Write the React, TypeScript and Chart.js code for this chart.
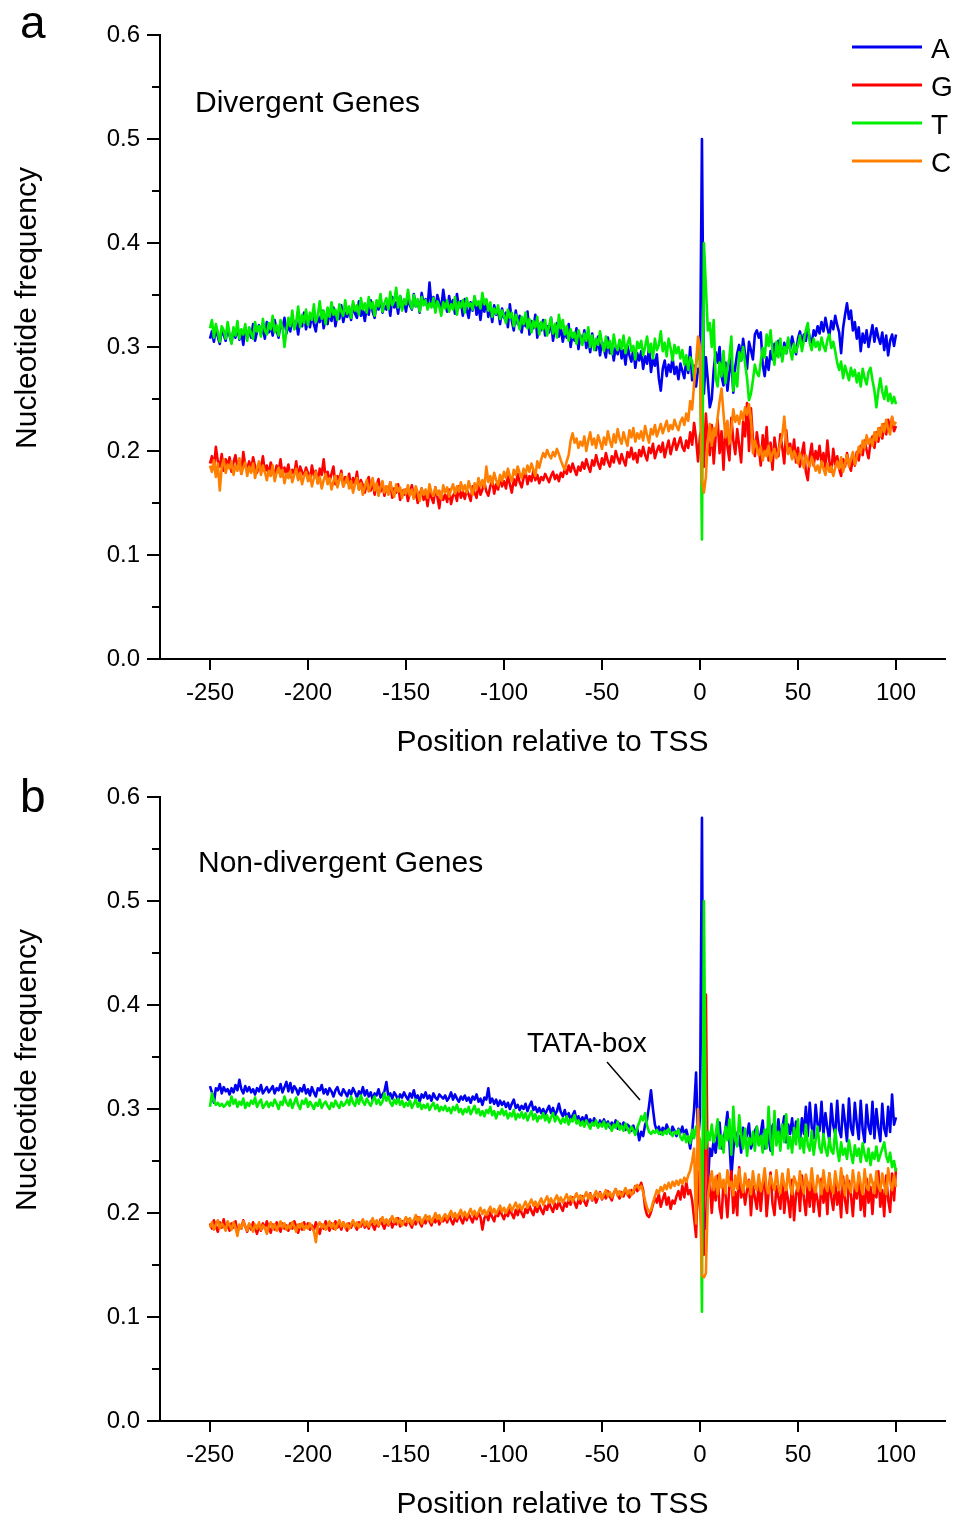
import React, { useEffect, useRef } from 'react';
import { Chart, registerables } from 'chart.js';

Chart.register(...registerables);

const FONT = '"Liberation Sans", Arial, Helvetica, sans-serif';

// Positions relative to TSS (-250 .. 100)
const positions: number[] = Array.from({ length: 351 }, (_, i) => i - 250);

const xTickValues = [-250, -200, -150, -100, -50, 0, 50, 100];
const yTickValues = [0, 0.1, 0.2, 0.3, 0.4, 0.5, 0.6];
const yMinorTickValues = [0.05, 0.15, 0.25, 0.35, 0.45, 0.55];

const seriesNames = ['A', 'G', 'T', 'C'];
const seriesColors = ['#0000f0', '#ff0000', '#00ee00', '#ff8000'];

// ---------- Panel a : Divergent genes ----------
const divA = [
  0.308, 0.315, 0.305, 0.318, 0.310, 0.303, 0.316, 0.312, 0.306, 0.319, // -250
  0.311, 0.304, 0.317, 0.309, 0.320, 0.307, 0.314, 0.302, 0.318, 0.311, // -240
  0.316, 0.309, 0.322, 0.306, 0.315, 0.321, 0.312, 0.318, 0.308, 0.324, // -230
  0.314, 0.320, 0.311, 0.326, 0.316, 0.309, 0.323, 0.318, 0.328, 0.313, // -220
  0.321, 0.315, 0.330, 0.318, 0.325, 0.312, 0.327, 0.320, 0.333, 0.317, // -210
  0.326, 0.319, 0.331, 0.322, 0.315, 0.329, 0.324, 0.335, 0.318, 0.328, // -200
  0.322, 0.334, 0.325, 0.338, 0.320, 0.331, 0.327, 0.340, 0.324, 0.333, // -190
  0.329, 0.337, 0.326, 0.341, 0.332, 0.328, 0.344, 0.330, 0.336, 0.325, // -180
  0.339, 0.331, 0.345, 0.334, 0.328, 0.342, 0.336, 0.347, 0.333, 0.340, // -170
  0.336, 0.344, 0.330, 0.348, 0.338, 0.343, 0.332, 0.349, 0.337, 0.345, // -160
  0.334, 0.347, 0.340, 0.336, 0.351, 0.339, 0.345, 0.333, 0.352, 0.341, // -150
  0.346, 0.338, 0.362, 0.340, 0.348, 0.335, 0.350, 0.343, 0.337, 0.355, // -140
  0.342, 0.334, 0.349, 0.339, 0.345, 0.332, 0.351, 0.338, 0.344, 0.330, // -130
  0.346, 0.336, 0.328, 0.343, 0.335, 0.348, 0.331, 0.340, 0.326, 0.342, // -120
  0.334, 0.345, 0.329, 0.338, 0.324, 0.340, 0.331, 0.336, 0.322, 0.337, // -110
  0.328, 0.333, 0.319, 0.341, 0.325, 0.316, 0.335, 0.322, 0.330, 0.314, // -100
  0.327, 0.320, 0.334, 0.312, 0.325, 0.318, 0.331, 0.309, 0.322, 0.316, // -90
  0.326, 0.311, 0.320, 0.314, 0.328, 0.306, 0.318, 0.323, 0.310, 0.319, // -80
  0.305, 0.316, 0.309, 0.322, 0.300, 0.313, 0.306, 0.318, 0.298, 0.311, // -70
  0.304, 0.316, 0.299, 0.308, 0.295, 0.313, 0.301, 0.297, 0.310, 0.292, // -60
  0.305, 0.298, 0.290, 0.309, 0.294, 0.302, 0.287, 0.300, 0.293, 0.306, // -50
  0.289, 0.297, 0.283, 0.301, 0.292, 0.286, 0.298, 0.280, 0.294, 0.287, // -40
  0.296, 0.279, 0.291, 0.284, 0.299, 0.276, 0.289, 0.282, 0.293, 0.270, // -30
  0.258, 0.279, 0.287, 0.272, 0.283, 0.276, 0.290, 0.274, 0.281, 0.269, // -20
  0.284, 0.277, 0.270, 0.288, 0.275, 0.300, 0.268, 0.282, 0.262, 0.279, // -10
  0.276, 0.500, 0.255, 0.290, 0.268, 0.242, 0.250, 0.278, 0.295, 0.285, // 0
  0.300, 0.272, 0.263, 0.285, 0.258, 0.276, 0.290, 0.256, 0.281, 0.294, // 10
  0.302, 0.287, 0.308, 0.293, 0.279, 0.305, 0.297, 0.288, 0.312, 0.316, // 20
  0.309, 0.314, 0.283, 0.272, 0.290, 0.278, 0.296, 0.288, 0.303, 0.292, // 30
  0.306, 0.297, 0.289, 0.304, 0.294, 0.307, 0.298, 0.310, 0.301, 0.293, // 40
  0.308, 0.315, 0.304, 0.312, 0.306, 0.318, 0.309, 0.303, 0.316, 0.311, // 50
  0.320, 0.313, 0.324, 0.315, 0.328, 0.318, 0.311, 0.325, 0.317, 0.330, // 60
  0.321, 0.314, 0.294, 0.318, 0.331, 0.342, 0.327, 0.335, 0.316, 0.324, // 70
  0.308, 0.319, 0.296, 0.313, 0.304, 0.316, 0.300, 0.311, 0.321, 0.305, // 80
  0.318, 0.309, 0.303, 0.314, 0.297, 0.311, 0.292, 0.306, 0.312, 0.301, // 90
  0.312, // 100
];

const divT = [
  0.318, 0.326, 0.309, 0.322, 0.314, 0.305, 0.320, 0.316, 0.308, 0.324, // -250
  0.313, 0.303, 0.319, 0.311, 0.325, 0.308, 0.317, 0.312, 0.322, 0.306, // -240
  0.319, 0.313, 0.308, 0.324, 0.315, 0.320, 0.310, 0.327, 0.316, 0.312, // -230
  0.323, 0.317, 0.330, 0.314, 0.321, 0.311, 0.326, 0.318, 0.300, 0.316, // -220
  0.328, 0.320, 0.335, 0.317, 0.324, 0.339, 0.319, 0.331, 0.323, 0.336, // -210
  0.321, 0.333, 0.326, 0.341, 0.324, 0.330, 0.344, 0.327, 0.335, 0.322, // -200
  0.338, 0.329, 0.343, 0.331, 0.336, 0.326, 0.341, 0.334, 0.330, 0.345, // -190
  0.332, 0.339, 0.328, 0.344, 0.335, 0.340, 0.331, 0.347, 0.336, 0.342, // -180
  0.333, 0.348, 0.337, 0.343, 0.330, 0.345, 0.339, 0.351, 0.334, 0.342, // -170
  0.347, 0.336, 0.353, 0.340, 0.344, 0.357, 0.338, 0.349, 0.335, 0.346, // -160
  0.341, 0.355, 0.343, 0.337, 0.350, 0.339, 0.346, 0.334, 0.348, 0.340, // -150
  0.345, 0.336, 0.342, 0.338, 0.347, 0.333, 0.344, 0.339, 0.330, 0.343, // -140
  0.337, 0.345, 0.334, 0.341, 0.336, 0.348, 0.331, 0.343, 0.338, 0.345, // -130
  0.333, 0.347, 0.339, 0.342, 0.336, 0.349, 0.340, 0.344, 0.337, 0.352, // -120
  0.341, 0.346, 0.335, 0.343, 0.329, 0.337, 0.332, 0.340, 0.327, 0.335, // -110
  0.330, 0.323, 0.336, 0.328, 0.333, 0.320, 0.331, 0.325, 0.317, 0.329, // -100
  0.322, 0.333, 0.318, 0.327, 0.314, 0.325, 0.319, 0.329, 0.312, 0.324, // -90
  0.317, 0.326, 0.311, 0.320, 0.328, 0.313, 0.322, 0.309, 0.331, 0.318, // -80
  0.326, 0.312, 0.320, 0.306, 0.317, 0.309, 0.314, 0.303, 0.316, 0.310, // -70
  0.302, 0.313, 0.306, 0.319, 0.300, 0.311, 0.297, 0.308, 0.302, 0.315, // -60
  0.304, 0.296, 0.310, 0.299, 0.306, 0.293, 0.312, 0.301, 0.297, 0.307, // -50
  0.298, 0.311, 0.294, 0.303, 0.309, 0.296, 0.301, 0.288, 0.305, 0.299, // -40
  0.306, 0.292, 0.300, 0.310, 0.295, 0.303, 0.289, 0.308, 0.297, 0.302, // -30
  0.315, 0.296, 0.304, 0.291, 0.308, 0.299, 0.287, 0.302, 0.294, 0.300, // -20
  0.289, 0.297, 0.283, 0.292, 0.278, 0.290, 0.286, 0.270, 0.281, 0.300, // -10
  0.285, 0.115, 0.400, 0.358, 0.316, 0.323, 0.300, 0.326, 0.270, 0.262, // 0
  0.285, 0.272, 0.296, 0.265, 0.280, 0.290, 0.310, 0.258, 0.275, 0.262, // 10
  0.295, 0.287, 0.300, 0.284, 0.270, 0.249, 0.255, 0.268, 0.283, 0.275, // 20
  0.272, 0.286, 0.299, 0.290, 0.312, 0.301, 0.316, 0.295, 0.283, 0.305, // 30
  0.290, 0.308, 0.286, 0.300, 0.294, 0.309, 0.297, 0.288, 0.303, 0.295, // 40
  0.302, 0.311, 0.296, 0.306, 0.316, 0.323, 0.304, 0.297, 0.308, 0.300, // 50
  0.305, 0.297, 0.309, 0.301, 0.296, 0.307, 0.312, 0.299, 0.305, 0.296, // 60
  0.285, 0.278, 0.286, 0.270, 0.282, 0.275, 0.268, 0.280, 0.272, 0.278, // 70
  0.266, 0.275, 0.262, 0.279, 0.270, 0.264, 0.276, 0.280, 0.268, 0.258, // 80
  0.242, 0.258, 0.270, 0.257, 0.250, 0.262, 0.248, 0.255, 0.246, 0.252, // 90
  0.245, // 100
];

const divG = [
  0.188, 0.195, 0.183, 0.204, 0.190, 0.185, 0.197, 0.181, 0.192, 0.186, // -250
  0.194, 0.180, 0.189, 0.196, 0.184, 0.191, 0.178, 0.199, 0.186, 0.182, // -240
  0.190, 0.181, 0.194, 0.185, 0.179, 0.188, 0.183, 0.195, 0.180, 0.186, // -230
  0.177, 0.189, 0.183, 0.174, 0.186, 0.180, 0.192, 0.176, 0.184, 0.179, // -220
  0.187, 0.175, 0.182, 0.178, 0.190, 0.173, 0.185, 0.180, 0.176, 0.184, // -210
  0.179, 0.172, 0.186, 0.176, 0.181, 0.169, 0.183, 0.177, 0.192, 0.174, // -200
  0.180, 0.171, 0.178, 0.185, 0.168, 0.176, 0.172, 0.181, 0.166, 0.175, // -190
  0.170, 0.178, 0.165, 0.174, 0.168, 0.180, 0.163, 0.172, 0.167, 0.160, // -180
  0.169, 0.175, 0.162, 0.171, 0.158, 0.167, 0.173, 0.161, 0.168, 0.157, // -170
  0.166, 0.159, 0.170, 0.155, 0.164, 0.160, 0.168, 0.153, 0.162, 0.158, // -160
  0.163, 0.152, 0.160, 0.167, 0.155, 0.161, 0.150, 0.158, 0.164, 0.153, // -150
  0.159, 0.147, 0.162, 0.155, 0.150, 0.165, 0.156, 0.145, 0.160, 0.153, // -140
  0.158, 0.151, 0.163, 0.149, 0.157, 0.160, 0.152, 0.166, 0.155, 0.161, // -130
  0.154, 0.163, 0.158, 0.152, 0.166, 0.160, 0.155, 0.168, 0.158, 0.163, // -120
  0.170, 0.161, 0.157, 0.166, 0.172, 0.159, 0.168, 0.163, 0.175, 0.166, // -110
  0.171, 0.164, 0.176, 0.168, 0.160, 0.173, 0.167, 0.178, 0.170, 0.165, // -100
  0.174, 0.180, 0.168, 0.176, 0.171, 0.181, 0.172, 0.177, 0.169, 0.175, // -90
  0.172, 0.178, 0.174, 0.170, 0.176, 0.180, 0.173, 0.177, 0.171, 0.179, // -80
  0.175, 0.183, 0.178, 0.186, 0.180, 0.188, 0.182, 0.177, 0.185, 0.181, // -70
  0.189, 0.183, 0.192, 0.185, 0.180, 0.191, 0.186, 0.196, 0.188, 0.183, // -60
  0.193, 0.187, 0.198, 0.190, 0.185, 0.195, 0.189, 0.200, 0.193, 0.188, // -50
  0.197, 0.191, 0.186, 0.199, 0.194, 0.203, 0.192, 0.198, 0.189, 0.201, // -40
  0.195, 0.204, 0.196, 0.191, 0.203, 0.198, 0.207, 0.193, 0.200, 0.205, // -30
  0.199, 0.208, 0.194, 0.203, 0.210, 0.197, 0.205, 0.212, 0.201, 0.207, // -20
  0.213, 0.204, 0.200, 0.210, 0.203, 0.218, 0.206, 0.227, 0.212, 0.190, // -10
  0.215, 0.222, 0.185, 0.236, 0.208, 0.196, 0.225, 0.188, 0.214, 0.230, // 0
  0.198, 0.219, 0.182, 0.226, 0.204, 0.191, 0.232, 0.210, 0.197, 0.221, // 10
  0.205, 0.189, 0.228, 0.214, 0.246, 0.200, 0.241, 0.212, 0.195, 0.218, // 20
  0.204, 0.186, 0.215, 0.197, 0.223, 0.191, 0.208, 0.182, 0.213, 0.200, // 30
  0.195, 0.216, 0.203, 0.188, 0.220, 0.198, 0.207, 0.193, 0.211, 0.189, // 40
  0.203, 0.185, 0.198, 0.208, 0.180, 0.172, 0.195, 0.207, 0.186, 0.200, // 50
  0.192, 0.205, 0.188, 0.198, 0.184, 0.210, 0.190, 0.180, 0.202, 0.187, // 60
  0.195, 0.183, 0.176, 0.192, 0.185, 0.198, 0.188, 0.181, 0.194, 0.186, // 70
  0.199, 0.191, 0.205, 0.196, 0.210, 0.201, 0.193, 0.208, 0.214, 0.203, // 80
  0.218, 0.209, 0.222, 0.212, 0.226, 0.216, 0.230, 0.221, 0.232, 0.219, // 90
  0.224, // 100
];

const divC = [
  0.186, 0.180, 0.191, 0.175, 0.188, 0.162, 0.185, 0.192, 0.179, 0.187, // -250
  0.183, 0.190, 0.177, 0.186, 0.181, 0.193, 0.178, 0.184, 0.189, 0.176, // -240
  0.185, 0.179, 0.188, 0.174, 0.183, 0.190, 0.177, 0.186, 0.180, 0.172, // -230
  0.181, 0.176, 0.186, 0.171, 0.179, 0.184, 0.175, 0.182, 0.169, 0.178, // -220
  0.174, 0.181, 0.170, 0.177, 0.183, 0.172, 0.179, 0.168, 0.176, 0.180, // -210
  0.171, 0.177, 0.166, 0.174, 0.180, 0.169, 0.175, 0.164, 0.172, 0.178, // -200
  0.168, 0.174, 0.163, 0.171, 0.176, 0.165, 0.172, 0.178, 0.166, 0.170, // -190
  0.175, 0.164, 0.171, 0.160, 0.168, 0.174, 0.163, 0.169, 0.158, 0.166, // -180
  0.172, 0.161, 0.167, 0.174, 0.162, 0.169, 0.157, 0.165, 0.171, 0.160, // -170
  0.166, 0.158, 0.170, 0.162, 0.156, 0.168, 0.161, 0.165, 0.155, 0.163, // -160
  0.159, 0.167, 0.157, 0.163, 0.154, 0.166, 0.160, 0.152, 0.164, 0.158, // -150
  0.163, 0.155, 0.168, 0.160, 0.157, 0.165, 0.158, 0.162, 0.154, 0.167, // -140
  0.160, 0.165, 0.156, 0.163, 0.168, 0.159, 0.166, 0.161, 0.170, 0.162, // -130
  0.167, 0.160, 0.171, 0.164, 0.158, 0.169, 0.163, 0.174, 0.166, 0.172, // -120
  0.165, 0.185, 0.170, 0.176, 0.168, 0.179, 0.172, 0.167, 0.177, 0.171, // -110
  0.180, 0.174, 0.183, 0.176, 0.171, 0.182, 0.177, 0.185, 0.179, 0.174, // -100
  0.183, 0.178, 0.186, 0.180, 0.188, 0.182, 0.176, 0.190, 0.184, 0.192, // -90
  0.198, 0.194, 0.201, 0.196, 0.193, 0.199, 0.195, 0.202, 0.197, 0.191, // -80
  0.186, 0.182, 0.190, 0.196, 0.210, 0.217, 0.208, 0.212, 0.203, 0.209, // -70
  0.205, 0.214, 0.200, 0.210, 0.218, 0.206, 0.212, 0.203, 0.215, 0.209, // -60
  0.202, 0.213, 0.206, 0.219, 0.210, 0.204, 0.216, 0.208, 0.221, 0.212, // -50
  0.207, 0.218, 0.211, 0.205, 0.220, 0.213, 0.222, 0.209, 0.217, 0.212, // -40
  0.219, 0.210, 0.224, 0.215, 0.208, 0.221, 0.216, 0.225, 0.214, 0.220, // -30
  0.226, 0.217, 0.223, 0.229, 0.219, 0.225, 0.221, 0.230, 0.224, 0.220, // -20
  0.228, 0.232, 0.225, 0.236, 0.229, 0.248, 0.240, 0.265, 0.285, 0.310, // -10
  0.300, 0.172, 0.160, 0.175, 0.210, 0.226, 0.205, 0.222, 0.215, 0.232, // 0
  0.248, 0.260, 0.236, 0.213, 0.229, 0.207, 0.221, 0.240, 0.228, 0.234, // 10
  0.226, 0.238, 0.230, 0.242, 0.235, 0.245, 0.231, 0.198, 0.210, 0.203, // 20
  0.196, 0.204, 0.191, 0.200, 0.195, 0.205, 0.190, 0.198, 0.202, 0.193, // 30
  0.199, 0.207, 0.215, 0.233, 0.210, 0.197, 0.203, 0.192, 0.200, 0.195, // 40
  0.188, 0.198, 0.192, 0.184, 0.196, 0.190, 0.185, 0.194, 0.188, 0.181, // 50
  0.186, 0.179, 0.190, 0.183, 0.177, 0.188, 0.180, 0.185, 0.176, 0.184, // 60
  0.190, 0.183, 0.194, 0.180, 0.188, 0.196, 0.185, 0.192, 0.199, 0.187, // 70
  0.195, 0.204, 0.198, 0.210, 0.203, 0.215, 0.207, 0.212, 0.205, 0.218, // 80
  0.210, 0.222, 0.214, 0.226, 0.218, 0.230, 0.221, 0.216, 0.233, 0.225, // 90
  0.228, // 100
];

// ---------- Panel b : Non-divergent genes ----------
const ndA = [
  0.322, 0.316, 0.306, 0.320, 0.318, 0.324, 0.315, 0.321, 0.317, 0.319, // -250
  0.314, 0.320, 0.316, 0.323, 0.318, 0.328, 0.319, 0.315, 0.322, 0.317, // -240
  0.321, 0.316, 0.319, 0.314, 0.320, 0.317, 0.323, 0.315, 0.318, 0.321, // -230
  0.316, 0.319, 0.322, 0.315, 0.320, 0.318, 0.324, 0.316, 0.321, 0.326, // -220
  0.317, 0.325, 0.316, 0.322, 0.319, 0.314, 0.320, 0.317, 0.323, 0.315, // -210
  0.319, 0.313, 0.321, 0.316, 0.312, 0.320, 0.318, 0.323, 0.315, 0.319, // -200
  0.314, 0.320, 0.317, 0.312, 0.318, 0.321, 0.315, 0.313, 0.319, 0.316, // -190
  0.312, 0.318, 0.314, 0.320, 0.316, 0.311, 0.317, 0.314, 0.321, 0.313, // -180
  0.318, 0.312, 0.316, 0.309, 0.315, 0.313, 0.319, 0.311, 0.314, 0.317, // -170
  0.326, 0.312, 0.315, 0.310, 0.316, 0.313, 0.308, 0.314, 0.311, 0.316, // -160
  0.312, 0.309, 0.315, 0.311, 0.318, 0.310, 0.313, 0.307, 0.314, 0.311, // -150
  0.316, 0.310, 0.313, 0.308, 0.315, 0.311, 0.309, 0.314, 0.312, 0.310, // -140
  0.313, 0.308, 0.311, 0.316, 0.309, 0.314, 0.310, 0.307, 0.312, 0.309, // -130
  0.313, 0.308, 0.311, 0.306, 0.312, 0.309, 0.314, 0.307, 0.310, 0.304, // -120
  0.311, 0.309, 0.320, 0.306, 0.310, 0.305, 0.309, 0.303, 0.308, 0.304, // -110
  0.307, 0.302, 0.306, 0.300, 0.305, 0.309, 0.301, 0.304, 0.299, 0.303, // -100
  0.300, 0.305, 0.298, 0.303, 0.307, 0.299, 0.302, 0.297, 0.301, 0.296, // -90
  0.300, 0.295, 0.299, 0.303, 0.296, 0.301, 0.294, 0.298, 0.305, 0.297, // -80
  0.293, 0.299, 0.291, 0.296, 0.290, 0.294, 0.298, 0.289, 0.293, 0.287, // -70
  0.292, 0.288, 0.294, 0.286, 0.290, 0.285, 0.291, 0.287, 0.283, 0.289, // -60
  0.285, 0.290, 0.284, 0.288, 0.282, 0.287, 0.283, 0.289, 0.281, 0.286, // -50
  0.282, 0.287, 0.280, 0.285, 0.283, 0.279, 0.284, 0.276, 0.281, 0.270, // -40
  0.278, 0.274, 0.285, 0.290, 0.303, 0.318, 0.300, 0.285, 0.279, 0.283, // -30
  0.276, 0.282, 0.278, 0.285, 0.280, 0.276, 0.283, 0.279, 0.274, 0.281, // -20
  0.277, 0.283, 0.275, 0.280, 0.273, 0.262, 0.278, 0.300, 0.335, 0.270, // -10
  0.292, 0.580, 0.200, 0.185, 0.225, 0.262, 0.255, 0.270, 0.258, 0.275, // 0
  0.287, 0.262, 0.270, 0.281, 0.297, 0.268, 0.235, 0.260, 0.278, 0.265, // 10
  0.274, 0.258, 0.282, 0.268, 0.276, 0.286, 0.262, 0.270, 0.279, 0.283, // 20
  0.266, 0.277, 0.289, 0.262, 0.280, 0.272, 0.260, 0.284, 0.287, 0.268, // 30
  0.290, 0.274, 0.282, 0.293, 0.268, 0.285, 0.276, 0.291, 0.270, 0.288, // 40
  0.279, 0.268, 0.291, 0.276, 0.302, 0.274, 0.306, 0.283, 0.272, 0.304, // 50
  0.285, 0.279, 0.307, 0.276, 0.296, 0.281, 0.270, 0.305, 0.284, 0.276, // 60
  0.308, 0.280, 0.273, 0.304, 0.287, 0.269, 0.310, 0.282, 0.275, 0.306, // 70
  0.286, 0.271, 0.308, 0.280, 0.268, 0.304, 0.283, 0.276, 0.307, 0.272, // 80
  0.300, 0.282, 0.269, 0.305, 0.281, 0.274, 0.302, 0.278, 0.314, 0.285, // 90
  0.292, // 100
];

const ndT = [
  0.302, 0.315, 0.308, 0.304, 0.306, 0.303, 0.305, 0.302, 0.304, 0.307, // -250
  0.303, 0.312, 0.305, 0.309, 0.302, 0.307, 0.304, 0.310, 0.301, 0.306, // -240
  0.303, 0.308, 0.305, 0.311, 0.302, 0.306, 0.309, 0.301, 0.304, 0.307, // -230
  0.302, 0.306, 0.303, 0.309, 0.305, 0.300, 0.307, 0.304, 0.312, 0.306, // -220
  0.303, 0.309, 0.301, 0.306, 0.311, 0.304, 0.300, 0.308, 0.305, 0.310, // -210
  0.302, 0.307, 0.304, 0.300, 0.306, 0.303, 0.309, 0.301, 0.305, 0.307, // -200
  0.303, 0.300, 0.306, 0.302, 0.308, 0.304, 0.301, 0.307, 0.303, 0.305, // -190
  0.309, 0.304, 0.312, 0.306, 0.303, 0.310, 0.305, 0.313, 0.307, 0.304, // -180
  0.310, 0.306, 0.303, 0.308, 0.312, 0.305, 0.309, 0.304, 0.307, 0.315, // -170
  0.308, 0.312, 0.306, 0.303, 0.309, 0.305, 0.310, 0.304, 0.308, 0.302, // -160
  0.306, 0.303, 0.308, 0.301, 0.305, 0.309, 0.302, 0.306, 0.300, 0.304, // -150
  0.301, 0.305, 0.299, 0.303, 0.306, 0.300, 0.304, 0.298, 0.302, 0.299, // -140
  0.303, 0.298, 0.301, 0.296, 0.302, 0.299, 0.304, 0.297, 0.300, 0.295, // -130
  0.300, 0.297, 0.302, 0.295, 0.299, 0.303, 0.296, 0.300, 0.294, 0.298, // -120
  0.293, 0.299, 0.296, 0.302, 0.294, 0.298, 0.291, 0.297, 0.295, 0.300, // -110
  0.294, 0.298, 0.291, 0.296, 0.293, 0.299, 0.290, 0.295, 0.292, 0.297, // -100
  0.291, 0.296, 0.289, 0.294, 0.298, 0.290, 0.295, 0.288, 0.293, 0.291, // -90
  0.296, 0.289, 0.294, 0.287, 0.292, 0.296, 0.288, 0.293, 0.290, 0.286, // -80
  0.291, 0.287, 0.293, 0.285, 0.290, 0.288, 0.294, 0.286, 0.289, 0.284, // -70
  0.288, 0.283, 0.289, 0.285, 0.281, 0.287, 0.284, 0.289, 0.282, 0.286, // -60
  0.283, 0.288, 0.281, 0.286, 0.284, 0.279, 0.285, 0.282, 0.288, 0.280, // -50
  0.284, 0.279, 0.286, 0.281, 0.277, 0.283, 0.280, 0.275, 0.282, 0.287, // -40
  0.293, 0.289, 0.296, 0.284, 0.278, 0.276, 0.279, 0.277, 0.280, 0.276, // -30
  0.278, 0.275, 0.279, 0.276, 0.281, 0.277, 0.274, 0.278, 0.276, 0.280, // -20
  0.273, 0.270, 0.276, 0.268, 0.274, 0.267, 0.280, 0.272, 0.283, 0.276, // -10
  0.270, 0.105, 0.500, 0.262, 0.278, 0.270, 0.285, 0.268, 0.276, 0.290, // 0
  0.262, 0.275, 0.258, 0.283, 0.270, 0.290, 0.256, 0.302, 0.270, 0.264, // 10
  0.294, 0.275, 0.262, 0.281, 0.255, 0.272, 0.266, 0.278, 0.260, 0.283, // 20
  0.265, 0.274, 0.258, 0.280, 0.262, 0.302, 0.270, 0.256, 0.298, 0.265, // 30
  0.278, 0.260, 0.285, 0.268, 0.295, 0.262, 0.273, 0.258, 0.282, 0.266, // 40
  0.290, 0.262, 0.272, 0.258, 0.285, 0.265, 0.260, 0.279, 0.256, 0.270, // 50
  0.283, 0.263, 0.258, 0.276, 0.262, 0.255, 0.272, 0.260, 0.257, 0.280, // 60
  0.262, 0.250, 0.268, 0.256, 0.262, 0.252, 0.270, 0.258, 0.248, 0.265, // 70
  0.255, 0.262, 0.249, 0.267, 0.256, 0.250, 0.262, 0.246, 0.258, 0.252, // 80
  0.264, 0.250, 0.256, 0.262, 0.268, 0.255, 0.249, 0.258, 0.244, 0.250, // 90
  0.240, // 100
];

const ndG = [
  0.190, 0.185, 0.193, 0.187, 0.182, 0.191, 0.186, 0.194, 0.184, 0.189, // -250
  0.183, 0.190, 0.186, 0.192, 0.181, 0.188, 0.185, 0.193, 0.187, 0.182, // -240
  0.189, 0.184, 0.191, 0.186, 0.180, 0.188, 0.183, 0.190, 0.185, 0.192, // -230
  0.186, 0.181, 0.189, 0.184, 0.191, 0.186, 0.182, 0.190, 0.185, 0.188, // -220
  0.183, 0.190, 0.185, 0.192, 0.187, 0.181, 0.189, 0.184, 0.191, 0.186, // -210
  0.190, 0.184, 0.188, 0.183, 0.191, 0.186, 0.180, 0.189, 0.185, 0.192, // -200
  0.187, 0.183, 0.190, 0.185, 0.192, 0.186, 0.189, 0.184, 0.191, 0.187, // -190
  0.183, 0.190, 0.186, 0.192, 0.188, 0.184, 0.191, 0.187, 0.193, 0.186, // -180
  0.190, 0.185, 0.192, 0.188, 0.184, 0.191, 0.187, 0.194, 0.189, 0.185, // -170
  0.192, 0.188, 0.194, 0.186, 0.191, 0.189, 0.195, 0.187, 0.192, 0.190, // -160
  0.188, 0.194, 0.190, 0.186, 0.193, 0.189, 0.196, 0.191, 0.187, 0.194, // -150
  0.190, 0.196, 0.192, 0.188, 0.195, 0.191, 0.197, 0.189, 0.194, 0.192, // -140
  0.196, 0.191, 0.198, 0.193, 0.189, 0.195, 0.192, 0.199, 0.194, 0.190, // -130
  0.197, 0.193, 0.199, 0.195, 0.191, 0.198, 0.194, 0.200, 0.196, 0.184, // -120
  0.195, 0.199, 0.193, 0.201, 0.196, 0.192, 0.200, 0.197, 0.203, 0.198, // -110
  0.194, 0.201, 0.197, 0.204, 0.199, 0.195, 0.203, 0.198, 0.205, 0.200, // -100
  0.196, 0.204, 0.200, 0.207, 0.202, 0.198, 0.206, 0.201, 0.208, 0.203, // -90
  0.199, 0.207, 0.203, 0.210, 0.205, 0.201, 0.209, 0.204, 0.211, 0.206, // -80
  0.202, 0.210, 0.206, 0.213, 0.208, 0.215, 0.210, 0.205, 0.213, 0.209, // -70
  0.216, 0.211, 0.207, 0.214, 0.219, 0.212, 0.217, 0.210, 0.215, 0.220, // -60
  0.213, 0.218, 0.214, 0.221, 0.216, 0.212, 0.219, 0.223, 0.217, 0.214, // -50
  0.220, 0.216, 0.223, 0.218, 0.215, 0.222, 0.219, 0.226, 0.221, 0.224, // -40
  0.229, 0.222, 0.205, 0.198, 0.196, 0.201, 0.208, 0.215, 0.210, 0.218, // -30
  0.206, 0.213, 0.219, 0.208, 0.215, 0.204, 0.212, 0.209, 0.216, 0.221, // -20
  0.213, 0.226, 0.215, 0.230, 0.218, 0.222, 0.212, 0.195, 0.177, 0.240, // -10
  0.205, 0.180, 0.160, 0.410, 0.215, 0.232, 0.200, 0.228, 0.212, 0.236, // 0
  0.205, 0.195, 0.230, 0.218, 0.196, 0.226, 0.240, 0.200, 0.220, 0.198, // 10
  0.244, 0.215, 0.225, 0.208, 0.222, 0.232, 0.198, 0.226, 0.215, 0.204, // 20
  0.230, 0.202, 0.225, 0.236, 0.197, 0.220, 0.239, 0.209, 0.198, 0.226, // 30
  0.215, 0.204, 0.237, 0.200, 0.223, 0.212, 0.196, 0.232, 0.193, 0.218, // 40
  0.228, 0.202, 0.236, 0.214, 0.198, 0.229, 0.206, 0.234, 0.201, 0.222, // 50
  0.212, 0.197, 0.233, 0.210, 0.225, 0.199, 0.238, 0.215, 0.203, 0.230, // 60
  0.208, 0.222, 0.196, 0.235, 0.212, 0.200, 0.231, 0.218, 0.197, 0.226, // 70
  0.214, 0.236, 0.203, 0.221, 0.197, 0.233, 0.210, 0.225, 0.199, 0.229, // 80
  0.215, 0.240, 0.206, 0.222, 0.197, 0.236, 0.213, 0.201, 0.238, 0.212, // 90
  0.243, // 100
];

const ndC = [
  0.186, 0.191, 0.184, 0.189, 0.193, 0.185, 0.190, 0.187, 0.183, 0.192, // -250
  0.188, 0.184, 0.191, 0.186, 0.178, 0.189, 0.185, 0.192, 0.187, 0.183, // -240
  0.190, 0.186, 0.182, 0.189, 0.185, 0.191, 0.184, 0.188, 0.186, 0.180, // -230
  0.187, 0.191, 0.185, 0.189, 0.183, 0.188, 0.192, 0.186, 0.190, 0.184, // -220
  0.188, 0.185, 0.191, 0.187, 0.182, 0.189, 0.186, 0.190, 0.184, 0.188, // -210
  0.185, 0.190, 0.186, 0.183, 0.172, 0.187, 0.191, 0.186, 0.189, 0.184, // -200
  0.188, 0.192, 0.186, 0.190, 0.184, 0.189, 0.193, 0.187, 0.191, 0.186, // -190
  0.190, 0.185, 0.189, 0.193, 0.187, 0.191, 0.186, 0.190, 0.194, 0.188, // -180
  0.192, 0.187, 0.191, 0.195, 0.189, 0.193, 0.188, 0.192, 0.196, 0.190, // -170
  0.194, 0.189, 0.193, 0.197, 0.191, 0.195, 0.190, 0.194, 0.188, 0.192, // -160
  0.196, 0.191, 0.195, 0.189, 0.193, 0.198, 0.192, 0.196, 0.190, 0.194, // -150
  0.198, 0.193, 0.197, 0.191, 0.195, 0.200, 0.194, 0.198, 0.192, 0.196, // -140
  0.199, 0.194, 0.198, 0.202, 0.196, 0.200, 0.195, 0.199, 0.203, 0.197, // -130
  0.201, 0.196, 0.200, 0.204, 0.198, 0.202, 0.197, 0.201, 0.205, 0.199, // -120
  0.203, 0.198, 0.202, 0.206, 0.200, 0.204, 0.199, 0.203, 0.207, 0.201, // -110
  0.205, 0.200, 0.204, 0.208, 0.202, 0.206, 0.210, 0.204, 0.208, 0.203, // -100
  0.207, 0.211, 0.205, 0.209, 0.213, 0.207, 0.211, 0.206, 0.210, 0.214, // -90
  0.208, 0.212, 0.216, 0.210, 0.214, 0.209, 0.213, 0.217, 0.211, 0.215, // -80
  0.210, 0.214, 0.218, 0.212, 0.216, 0.211, 0.215, 0.219, 0.213, 0.217, // -70
  0.212, 0.216, 0.220, 0.214, 0.218, 0.213, 0.217, 0.221, 0.215, 0.219, // -60
  0.214, 0.218, 0.222, 0.216, 0.220, 0.215, 0.219, 0.223, 0.217, 0.221, // -50
  0.216, 0.220, 0.224, 0.218, 0.222, 0.217, 0.221, 0.225, 0.227, 0.223, // -40
  0.226, 0.220, 0.212, 0.205, 0.201, 0.203, 0.210, 0.216, 0.222, 0.219, // -30
  0.225, 0.221, 0.227, 0.223, 0.229, 0.224, 0.230, 0.226, 0.231, 0.227, // -20
  0.232, 0.228, 0.234, 0.230, 0.236, 0.241, 0.250, 0.262, 0.190, 0.300, // -10
  0.235, 0.140, 0.138, 0.142, 0.215, 0.228, 0.240, 0.222, 0.235, 0.218, // 0
  0.238, 0.224, 0.232, 0.219, 0.241, 0.226, 0.230, 0.217, 0.236, 0.223, // 10
  0.242, 0.227, 0.220, 0.238, 0.225, 0.231, 0.218, 0.240, 0.226, 0.222, // 20
  0.237, 0.221, 0.229, 0.243, 0.224, 0.219, 0.236, 0.228, 0.222, 0.241, // 30
  0.225, 0.219, 0.238, 0.227, 0.222, 0.242, 0.226, 0.218, 0.235, 0.229, // 40
  0.221, 0.240, 0.226, 0.219, 0.237, 0.228, 0.222, 0.243, 0.225, 0.220, // 50
  0.236, 0.229, 0.218, 0.241, 0.226, 0.221, 0.238, 0.224, 0.219, 0.240, // 60
  0.227, 0.222, 0.243, 0.228, 0.217, 0.236, 0.225, 0.220, 0.241, 0.226, // 70
  0.221, 0.239, 0.228, 0.218, 0.242, 0.225, 0.222, 0.237, 0.229, 0.219, // 80
  0.240, 0.226, 0.221, 0.238, 0.227, 0.218, 0.243, 0.229, 0.222, 0.236, // 90
  0.225, // 100
];

type Decor = {
  letter: string;
  letterBaseline: number;
  subtitle: string;
  subtitleX: number;
  subtitleBaseline: number;
  legend: boolean;
  tata: boolean;
};

const decorPlugin = {
  id: 'decor',
  afterDraw(chart: any, _args: any, opts: Decor) {
    const ctx: CanvasRenderingContext2D = chart.ctx;
    const area = chart.chartArea;
    const ys = chart.scales.y;
    ctx.save();
    // minor y ticks
    ctx.strokeStyle = '#000';
    ctx.lineWidth = 2;
    for (const v of yMinorTickValues) {
      const py = Math.round(ys.getPixelForValue(v));
      ctx.beginPath();
      ctx.moveTo(area.left - 8, py);
      ctx.lineTo(area.left, py);
      ctx.stroke();
    }
    ctx.fillStyle = '#000';
    ctx.textBaseline = 'alphabetic';
    ctx.textAlign = 'left';
    ctx.font = `46px ${FONT}`;
    ctx.fillText(opts.letter, 20, opts.letterBaseline);
    ctx.font = `30px ${FONT}`;
    ctx.fillText(opts.subtitle, opts.subtitleX, opts.subtitleBaseline);
    // x title
    ctx.textAlign = 'center';
    ctx.fillText('Position relative to TSS', (area.left + area.right) / 2, 751);
    // y title
    ctx.save();
    ctx.translate(36, 308);
    ctx.rotate(-Math.PI / 2);
    ctx.fillText('Nucleotide frequency', 0, 0);
    ctx.restore();

    if (opts.legend) {
      ctx.textAlign = 'left';
      ctx.font = `28px ${FONT}`;
      seriesNames.forEach((name, i) => {
        const ly = 47 + i * 38;
        ctx.strokeStyle = seriesColors[i];
        ctx.lineWidth = 2.8;
        ctx.beginPath();
        ctx.moveTo(852, ly);
        ctx.lineTo(922, ly);
        ctx.stroke();
        ctx.fillStyle = '#000';
        ctx.fillText(name, 931, ly + 11);
      });
    }
    if (opts.tata) {
      ctx.textAlign = 'left';
      ctx.font = `28px ${FONT}`;
      ctx.fillStyle = '#000';
      ctx.fillText('TATA-box', 527, 290);
      ctx.strokeStyle = '#000';
      ctx.lineWidth = 1.5;
      ctx.beginPath();
      ctx.moveTo(607, 300);
      ctx.lineTo(640, 338);
      ctx.stroke();
    }
    ctx.restore();
  },
};

function buildConfig(series: number[][], canvasHeight: number, decor: Decor): any {
  const datasets = series.map((vals, i) => ({
    label: seriesNames[i],
    data: positions.map((p, j) => ({ x: p, y: vals[j] })),
    borderColor: seriesColors[i],
    backgroundColor: seriesColors[i],
    borderWidth: 2.6,
    pointRadius: 0,
    tension: 0,
    fill: false,
    borderJoinStyle: 'round',
    order: series.length - 1 - i,
  }));
  return {
    type: 'line',
    data: { datasets },
    plugins: [decorPlugin],
    options: {
      responsive: false,
      devicePixelRatio: 1,
      animation: false,
      events: [],
      layout: { padding: { top: 35, right: 11, left: 0, bottom: 0 } },
      plugins: {
        legend: { display: false },
        tooltip: { enabled: false },
        title: { display: false },
        decor,
      },
      scales: {
        x: {
          type: 'linear',
          min: -275.5,
          max: 125,
          afterBuildTicks: (s: any) => {
            s.ticks = xTickValues.map((v) => ({ value: v }));
          },
          afterFit: (s: any) => {
            s.height = canvasHeight - 659;
          },
          border: { display: true, color: '#000', width: 2 },
          grid: {
            display: true,
            drawOnChartArea: false,
            drawTicks: true,
            tickLength: 11,
            color: '#000',
            lineWidth: 2,
          },
          ticks: {
            color: '#000',
            font: { family: FONT, size: 24 },
            padding: 9,
            maxRotation: 0,
            autoSkip: false,
            callback: (v: number) => String(v),
          },
        },
        y: {
          type: 'linear',
          min: 0,
          max: 0.6,
          afterBuildTicks: (s: any) => {
            s.ticks = yTickValues.map((v) => ({ value: v }));
          },
          afterFit: (s: any) => {
            s.width = 160;
          },
          border: { display: true, color: '#000', width: 2 },
          grid: {
            display: true,
            drawOnChartArea: false,
            drawTicks: true,
            tickLength: 13,
            color: '#000',
            lineWidth: 2,
          },
          ticks: {
            color: '#000',
            font: { family: FONT, size: 24 },
            padding: 7,
            autoSkip: false,
            callback: (v: number) => Number(v).toFixed(1),
          },
        },
      },
    },
  };
}

function Panel(props: { series: number[][]; height: number; decor: Decor }) {
  const ref = useRef<HTMLCanvasElement>(null);
  useEffect(() => {
    if (!ref.current) return;
    const chart = new Chart(ref.current, buildConfig(props.series, props.height, props.decor));
    return () => chart.destroy();
  }, []);
  return <canvas ref={ref} width={956} height={props.height} style={{ display: 'block' }} />;
}

export default function App() {
  useEffect(() => {
    document.body.style.margin = '0';
    document.body.style.background = '#fff';
  }, []);
  return (
    <div style={{ width: 956, background: '#fff' }}>
      <Panel
        series={[divA, divG, divT, divC]}
        height={762}
        decor={{
          letter: 'a',
          letterBaseline: 38,
          subtitle: 'Divergent Genes',
          subtitleX: 195,
          subtitleBaseline: 112,
          legend: true,
          tata: false,
        }}
      />
      <Panel
        series={[ndA, ndG, ndT, ndC]}
        height={756}
        decor={{
          letter: 'b',
          letterBaseline: 50,
          subtitle: 'Non-divergent Genes',
          subtitleX: 198,
          subtitleBaseline: 110,
          legend: false,
          tata: true,
        }}
      />
    </div>
  );
}
